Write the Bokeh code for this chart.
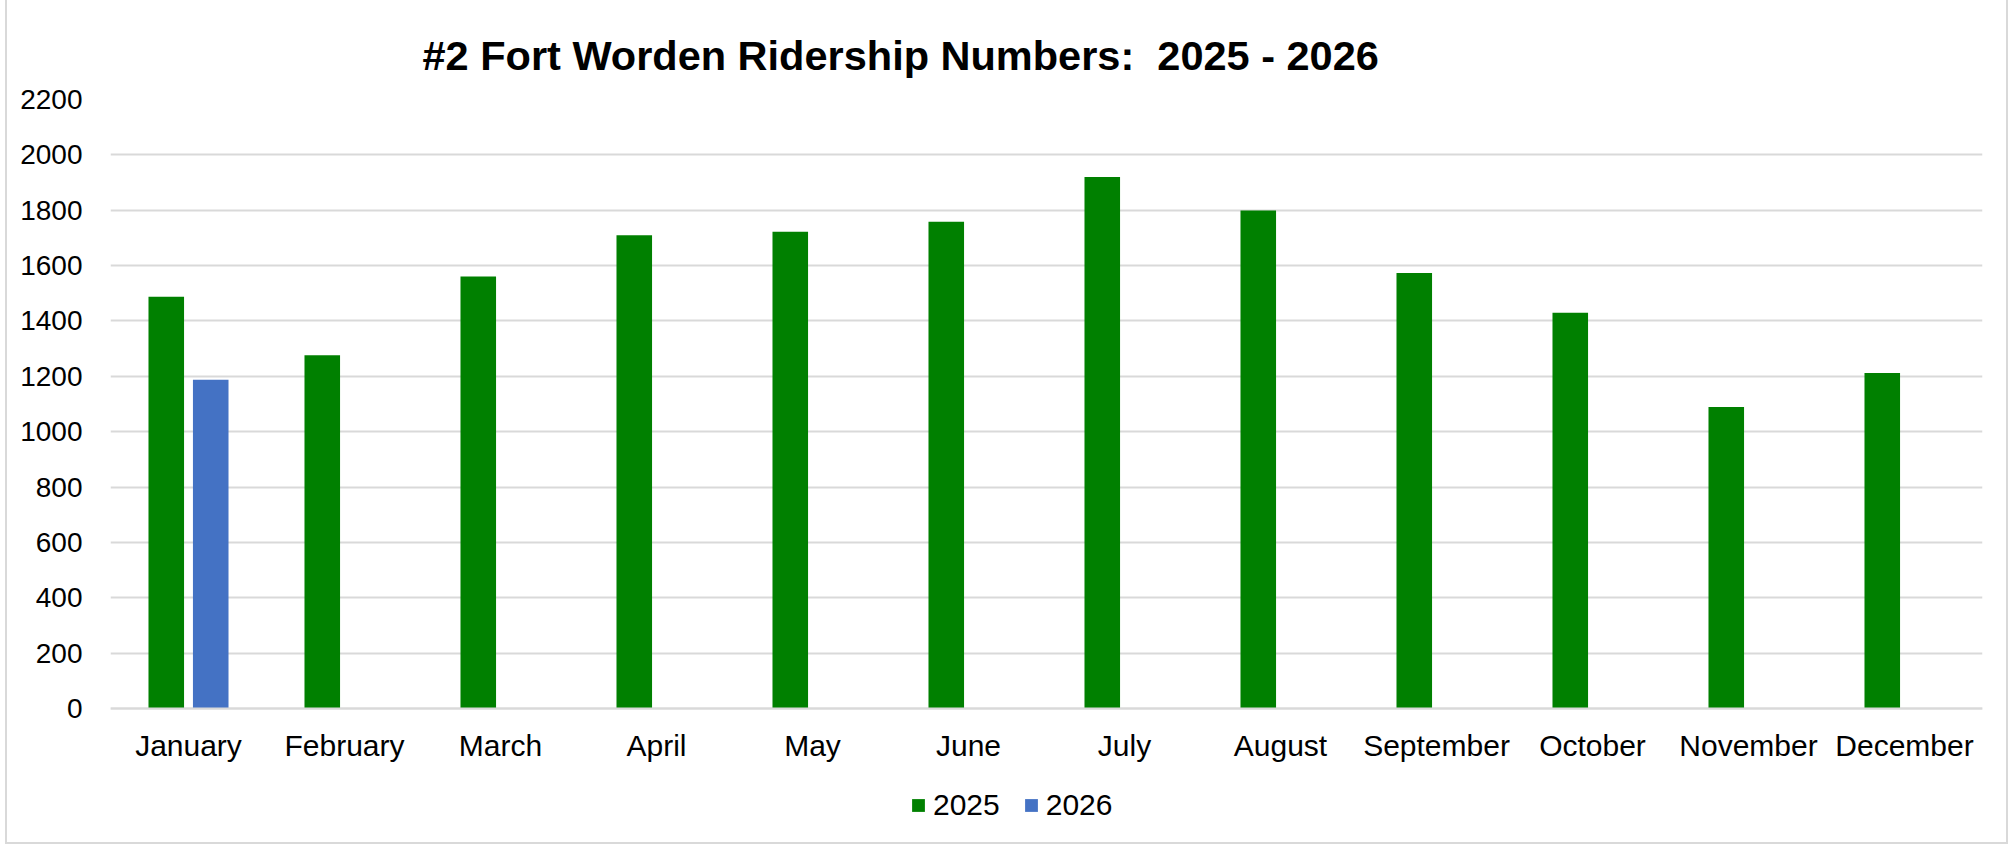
from bokeh.plotting import figure
from bokeh.models import (ColumnDataSource, FactorRange, Range1d, FixedTicker,
                          Legend, LegendItem, Title)
from bokeh.transform import dodge
from bokeh.embed import file_html
from bokeh.resources import INLINE

months = ["January", "February", "March", "April", "May", "June", "July",
          "August", "September", "October", "November", "December"]
riders_2025 = [1487, 1276, 1561, 1710, 1722, 1758, 1920, 1799, 1573, 1430, 1089, 1212]
months_2026 = ["January"]
riders_2026 = [1188]
y_ticks = list(range(0, 2201, 200))

FONT = "Liberation Sans"

# frame: y=2200 at 99 px, y=0 at 708 px, frame bottom at 842 px
Y_MAX = 2200
Y_MIN = -Y_MAX * (842 - 708) / (708 - 99)

p = figure(width=2003, height=844, x_range=FactorRange(*months, range_padding=0),
           y_range=Range1d(Y_MIN, Y_MAX), output_backend="svg", toolbar_location=None,
           min_border_left=103, min_border_right=28, min_border_top=99,
           min_border_bottom=2)
p.styles = {"margin-left": "5px",
            "border-left": "2px solid #d9d9d9",
            "border-right": "2px solid #d9d9d9",
            "border-bottom": "2px solid #d9d9d9"}
p.outline_line_color = None
p.background_fill_color = "white"
p.border_fill_color = "white"

src25 = ColumnDataSource(dict(month=months, v=riders_2025))
src26 = ColumnDataSource(dict(month=months_2026, v=riders_2026))

r1 = p.vbar(x=dodge("month", -0.1425, range=p.x_range), top="v", bottom=0, width=0.228,
            source=src25, fill_color="#008000", line_color=None)
r2 = p.vbar(x=dodge("month", 0.1425, range=p.x_range), top="v", bottom=0, width=0.228,
            source=src26, fill_color="#4472C4", line_color=None)

p.xgrid.grid_line_color = None
p.ygrid.ticker = FixedTicker(ticks=y_ticks)
p.ygrid.grid_line_color = "#d9d9d9"
p.ygrid.grid_line_width = 2

p.yaxis.ticker = FixedTicker(ticks=y_ticks)
p.yaxis.axis_line_color = None
p.yaxis.major_tick_line_color = None
p.yaxis.minor_tick_line_color = None
p.yaxis.major_label_text_font = FONT
p.yaxis.major_label_text_font_size = "28px"
p.yaxis.major_label_text_color = "black"
p.yaxis.major_label_standoff = 22

p.xaxis.fixed_location = 0
p.xaxis.axis_line_color = "#d9d9d9"
p.xaxis.axis_line_width = 2
p.xaxis.major_tick_line_color = None
p.xaxis.minor_tick_line_color = None
p.xaxis.major_label_text_font = FONT
p.xaxis.major_label_text_font_size = "30px"
p.xaxis.major_label_text_color = "black"
p.xaxis.major_label_standoff = 14

title = Title(text="#2 Fort Worden Ridership Numbers: \u00a02025 - 2026", align="left",
              offset=312, text_font=FONT, text_font_size="41.5px",
              text_font_style="bold", text_color="black", standoff=42)
p.add_layout(title, "above")

legend = Legend(items=[LegendItem(label="2025", renderers=[r1]),
                       LegendItem(label="2026", renderers=[r2])],
                orientation="horizontal", location=(800, 20),
                glyph_width=16, glyph_height=16, label_standoff=7, spacing=23,
                padding=0, margin=0, border_line_color=None,
                background_fill_alpha=0, label_text_font=FONT,
                label_text_font_size="30px", label_text_color="black")
p.add_layout(legend, "center")

open("out.html", "w").write(file_html(p, INLINE))
